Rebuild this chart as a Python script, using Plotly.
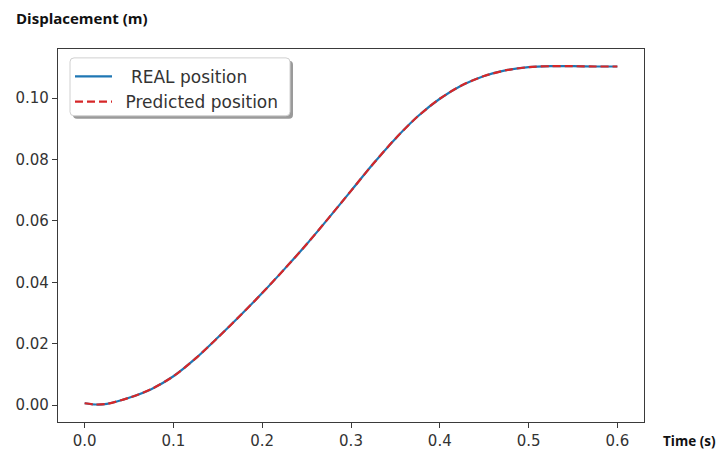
import plotly.graph_objects as go

# ---- data ----
time_s = [0.0, 0.0125, 0.025, 0.05, 0.075, 0.1, 0.125, 0.15, 0.175, 0.2, 0.225, 0.25,
          0.275, 0.3, 0.325, 0.35, 0.375, 0.4, 0.425, 0.45, 0.475, 0.5, 0.525,
          0.55, 0.575, 0.6]
real_position = [0.0006, 0.0002, 0.0004, 0.0024, 0.0052, 0.0094, 0.0152, 0.0220, 0.0291,
                 0.0365, 0.0443, 0.0524, 0.0610, 0.0698, 0.0786, 0.0868, 0.0940,
                 0.0998, 0.1042, 0.1072, 0.1091, 0.1101, 0.1104, 0.1104, 0.1103, 0.1103]
predicted_position = [0.0006, 0.0002, 0.0004, 0.0024, 0.0052, 0.0094, 0.0152, 0.0220, 0.0291,
                      0.0365, 0.0443, 0.0524, 0.0610, 0.0698, 0.0786, 0.0868, 0.0940,
                      0.0998, 0.1042, 0.1072, 0.1091, 0.1101, 0.1104, 0.1104, 0.1103, 0.1103]
x_ticks = [0.0, 0.1, 0.2, 0.3, 0.4, 0.5, 0.6]
y_ticks = [0.00, 0.02, 0.04, 0.06, 0.08, 0.10]
series_names = ["\u2002\u00a0REAL position", "\u2002Predicted position"]

W, H = 718, 462
L, R, T, B = 58, 74, 49, 36
pw, ph = W - L - R, H - T - B


def px(x):
    return (x - L) / pw


def py(y):
    return (H - B - y) / ph


fig = go.Figure()
fig.add_trace(go.Scatter(x=time_s, y=real_position, mode="lines", name=series_names[0],
                         line=dict(color="#1f77b4", width=2.2, shape="spline", smoothing=0.8)))
fig.add_trace(go.Scatter(x=time_s, y=predicted_position, mode="lines", name=series_names[1],
                         line=dict(color="#d62728", width=2.2, dash="8px,4px",
                                   shape="spline", smoothing=0.8)))

axis_common = dict(showline=True, mirror=True, linecolor="#3a3a3a", linewidth=1.2,
                   ticks="outside", ticklen=5, tickcolor="#3a3a3a", tickwidth=1,
                   showgrid=False, zeroline=False,
                   tickfont=dict(family="DejaVu Sans", size=15, color="#333333"))
fig.update_xaxes(range=[-0.03, 0.63], tickvals=x_ticks,
                 ticktext=[f"{v:.1f}" for v in x_ticks], **axis_common)
fig.update_yaxes(range=[-0.0055, 0.1160], tickvals=y_ticks,
                 ticktext=[f"{v:.2f}" for v in y_ticks], **axis_common)

# legend frame (rounded, with shadow) drawn as shapes
def rounded(x0, y0, x1, y1, r):
    X0, X1 = px(x0), px(x1)
    Y0, Y1 = py(y0), py(y1)
    rx, ry = r / pw, r / ph
    return (f"M{X0+rx},{Y0} L{X1-rx},{Y0} Q{X1},{Y0} {X1},{Y0-ry} "
            f"L{X1},{Y1+ry} Q{X1},{Y1} {X1-rx},{Y1} L{X0+rx},{Y1} "
            f"Q{X0},{Y1} {X0},{Y1+ry} L{X0},{Y0-ry} Q{X0},{Y0} {X0+rx},{Y0} Z")

fig.add_shape(type="path", xref="paper", yref="paper", layer="above",
              path=rounded(73, 61, 293, 119.5, 4),
              fillcolor="#9a9a9a", line=dict(width=0))
fig.add_shape(type="path", xref="paper", yref="paper", layer="above",
              path=rounded(70, 58, 290, 116.5, 4),
              fillcolor="white", line=dict(color="#d0d0d0", width=1))

fig.update_layout(
    width=W, height=H,
    margin=dict(l=L, r=R, t=T, b=B),
    paper_bgcolor="white", plot_bgcolor="white",
    showlegend=True,
    legend=dict(x=px(70), y=py(59), xanchor="left", yanchor="top",
                bgcolor="rgba(0,0,0,0)", borderwidth=0,
                font=dict(family="DejaVu Sans", size=17, color="#333333"),
                itemwidth=37, tracegroupgap=0),
    annotations=[
        dict(text="<b>Displacement (m)</b>", xref="paper", yref="paper",
             x=px(14), y=py(18), xanchor="left", yanchor="middle", showarrow=False,
             font=dict(family="Open Sans", size=15, color="#111111")),
        dict(text="<b>Time (s)</b>", xref="paper", yref="paper",
             x=px(661), y=py(445), xanchor="left", yanchor="middle", showarrow=False,
             font=dict(family="Open Sans", size=13.5, color="#111111")),
    ],
)

fig.write_html("out.html")
